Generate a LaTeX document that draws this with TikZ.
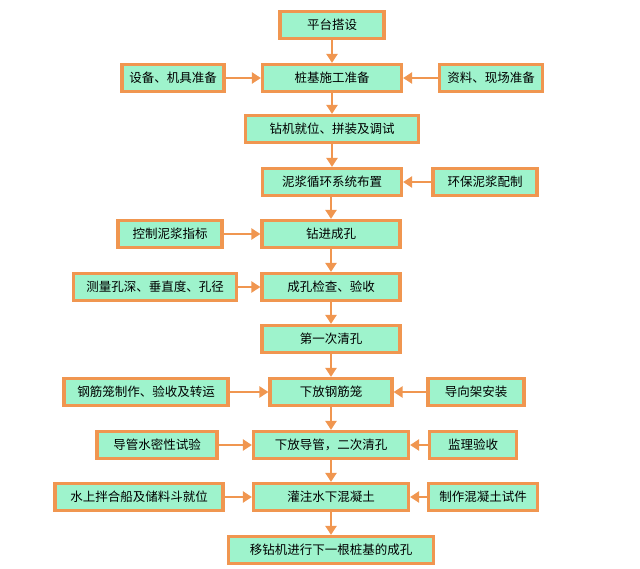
\documentclass[tikz,border=0pt]{standalone}
\usepackage{fontspec}
\newfontfamily\cjk{Noto Sans CJK SC}
\usetikzlibrary{arrows.meta}
\definecolor{boxfill}{RGB}{158,243,204}
\definecolor{boxline}{RGB}{240,150,80}

\begin{document}
\begin{tikzpicture}[x=1pt,y=-1pt,
  box/.style={draw=boxline,line width=3.2pt,fill=boxfill,minimum height=27pt,
    inner sep=0pt,font=\cjk\fontsize{12.5}{14}\selectfont},
  flow/.style={draw=boxline,line width=2.8pt,-{Triangle[length=9pt,width=11pt]}}]
\useasboundingbox (0,0) rectangle (640,568);
% main column
\node[box,minimum width=104pt] (tai) at (332,25) {平台搭设};
\node[box,minimum width=139pt] (zhunbei) at (332,78) {桩基施工准备};
\node[box,minimum width=173pt] (jiuwei) at (332,129) {钻机就位、拼装及调试};
\node[box,minimum width=139pt] (nijiang) at (332,182) {泥浆循环系统布置};
\node[box,minimum width=138pt] (zuanjin) at (331,234) {钻进成孔};
\node[box,minimum width=138pt] (jiancha) at (331,287) {成孔检查、验收};
\node[box,minimum width=138pt] (qingkong) at (331,339) {第一次清孔};
\node[box,minimum width=122pt] (gangjin) at (331,392) {下放钢筋笼};
\node[box,minimum width=155pt] (daoguan) at (331,445) {下放导管，二次清孔};
\node[box,minimum width=155pt] (guanzhu) at (331,497) {灌注水下混凝土};
\node[box,minimum width=205pt] (yizuan) at (331,550) {移钻机进行下一根桩基的成孔};
% side boxes
\node[box,minimum width=102pt] (shebei) at (173,78) {设备、机具准备};
\node[box,minimum width=103pt] (ziliao) at (491,78) {资料、现场准备};
\node[box,minimum width=104pt] (huanbao) at (485,182) {环保泥浆配制};
\node[box,minimum width=104pt] (kongzhi) at (170,234) {控制泥浆指标};
\node[box,minimum width=163pt] (celiang) at (155,287) {测量孔深、垂直度、孔径};
\node[box,minimum width=164pt] (zhizuo) at (146,392) {钢筋笼制作、验收及转运};
\node[box,minimum width=96pt] (daoxiang) at (476,392) {导向架安装};
\node[box,minimum width=120pt] (mishui) at (157,445) {导管水密性试验};
\node[box,minimum width=87pt] (jianli) at (473,445) {监理验收};
\node[box,minimum width=168pt] (banhe) at (139,497) {水上拌合船及储料斗就位};
\node[box,minimum width=109pt] (shijian) at (483,497) {制作混凝土试件};
% down arrows
\draw[flow] (tai) -- (zhunbei);
\draw[flow] (zhunbei) -- (jiuwei);
\draw[flow] (jiuwei) -- (nijiang);
\draw[flow] (nijiang.south -| zuanjin) -- (zuanjin);
\draw[flow] (zuanjin) -- (jiancha);
\draw[flow] (jiancha) -- (qingkong);
\draw[flow] (qingkong) -- (gangjin);
\draw[flow] (gangjin) -- (daoguan);
\draw[flow] (daoguan) -- (guanzhu);
\draw[flow] (guanzhu) -- (yizuan);
% side arrows
\draw[flow] (shebei) -- (zhunbei);
\draw[flow] (ziliao) -- (zhunbei);
\draw[flow] (huanbao) -- (nijiang);
\draw[flow] (kongzhi) -- (zuanjin);
\draw[flow] (celiang) -- (jiancha);
\draw[flow] (zhizuo) -- (gangjin);
\draw[flow] (daoxiang) -- (gangjin);
\draw[flow] (mishui) -- (daoguan);
\draw[flow] (jianli) -- (daoguan);
\draw[flow] (banhe) -- (guanzhu);
\draw[flow] (shijian) -- (guanzhu);
\end{tikzpicture}
\end{document}
